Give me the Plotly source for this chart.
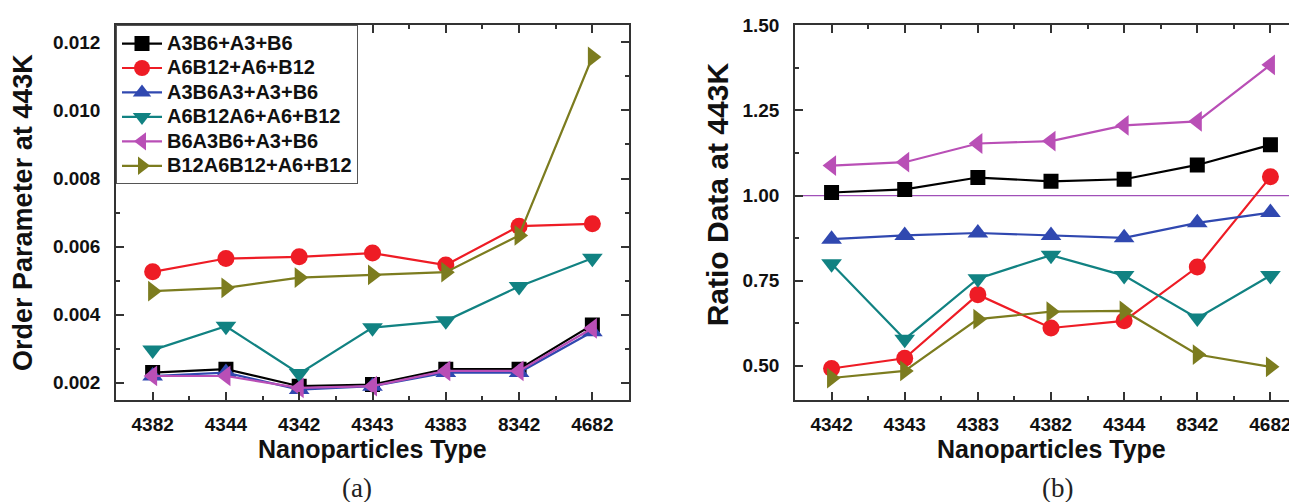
import plotly.graph_objects as go

# ---------------- data ----------------
cats_a = ["4382", "4344", "4342", "4343", "4383", "8342", "4682"]
cats_b = ["4342", "4343", "4383", "4382", "4344", "8342", "4682"]

series_names = ["A3B6+A3+B6", "A6B12+A6+B12", "A3B6A3+A3+B6",
                "A6B12A6+A6+B12", "B6A3B6+A3+B6", "B12A6B12+A6+B12"]

# (a) Order parameter at 443K
a_A3B6 = [0.0023, 0.0024, 0.0019, 0.00195, 0.0024, 0.0024, 0.0037]
a_A6B12 = [0.00526, 0.00565, 0.0057, 0.00581, 0.00546, 0.0066, 0.00667]
a_A3B6A3 = [0.0022, 0.0023, 0.0018, 0.0019, 0.0023, 0.0023, 0.0035]
a_A6B12A6 = [0.00296, 0.00366, 0.00227, 0.00362, 0.00382, 0.00483, 0.00566]
a_B6A3B6 = [0.0022, 0.0022, 0.00185, 0.0019, 0.00235, 0.00235, 0.0036]
a_B12A6B12 = [0.00469, 0.00479, 0.00509, 0.00517, 0.00525, 0.00633, 0.01157]

# (b) Ratio data at 443K
b_A3B6 = [1.009, 1.018, 1.053, 1.042, 1.048, 1.090, 1.149]
b_A6B12 = [0.492, 0.522, 0.709, 0.611, 0.632, 0.790, 1.055]
b_A3B6A3 = [0.872, 0.883, 0.890, 0.883, 0.876, 0.920, 0.950]
b_A6B12A6 = [0.800, 0.578, 0.756, 0.825, 0.765, 0.640, 0.765]
b_B6A3B6 = [1.088, 1.098, 1.153, 1.160, 1.206, 1.218, 1.384]
b_B12A6B12 = [0.464, 0.485, 0.637, 0.659, 0.661, 0.533, 0.497]

ref_level = 1.0

a_series = [a_A3B6, a_A6B12, a_A3B6A3, a_A6B12A6, a_B6A3B6, a_B12A6B12]
b_series = [b_A3B6, b_A6B12, b_A3B6A3, b_A6B12A6, b_B6A3B6, b_B12A6B12]

# ---------------- styles ----------------
colors = ["#000000", "#ee1c25", "#3048b0", "#118282", "#b94fb6", "#7c7c1f"]
symbols = ["square", "circle", "triangle-up", "triangle-down",
           "triangle-left", "triangle-right"]
msizes = [15, 17, 18, 18, 18, 18]

# the page body adds an 8px margin; figure is sized/placed to compensate
OFF = 8
W, H = 1297 - OFF, 502 - OFF
FONT = "Liberation Sans"
AX = "#333333"

xa = list(range(len(cats_a)))
xb = list(range(len(cats_b)))

fig = go.Figure()
for i, name in enumerate(series_names):
    fig.add_trace(go.Scatter(
        x=xa, y=a_series[i],
        name='<span style="font-size:20px">' + name + "</span>",
        mode="lines+markers",
        line=dict(color=colors[i], width=2.2),
        marker=dict(symbol=symbols[i], size=msizes[i], color=colors[i]),
        xaxis="x", yaxis="y", showlegend=True))
for i, name in enumerate(series_names):
    fig.add_trace(go.Scatter(
        x=xb, y=b_series[i], name=name, mode="lines+markers",
        line=dict(color=colors[i], width=2.2),
        marker=dict(symbol=symbols[i], size=msizes[i], color=colors[i]),
        xaxis="x2", yaxis="y2", showlegend=False))

fig.add_shape(type="line", xref="x2 domain", x0=0, x1=1, yref="y2",
              y0=ref_level, y1=ref_level, line=dict(color="#a04fb8", width=1.2),
              layer="below")


def px_x(p):
    return (p - OFF) / W


def px_y(p):
    return 1 - (p - OFF) / H


top_px, bot_px = 15.5, 397.7
xdom_a = [px_x(116), px_x(629)]
xdom_b = [px_x(795), 1.0]
ydom = [px_y(bot_px), px_y(top_px)]
unit_b = (1307 - 795) / 7.0
xrange_b = [-0.5, -0.5 + (1297 - 795) / unit_b]

tickfont = dict(family=FONT, size=19, color="#111111", weight="bold")

common_x = dict(showline=True, linecolor=AX, linewidth=1.5, ticks="inside",
                ticklen=8, tickwidth=1.5, tickcolor=AX, showgrid=False,
                zeroline=False, tickfont=tickfont, tickmode="array",
                ticklabelstandoff=7,
                minor=dict(tick0=0.5, dtick=1, ticklen=4, tickwidth=1.5,
                           tickcolor=AX, ticks="inside", showgrid=False))
common_y = dict(showline=True, linecolor=AX, linewidth=1.5, ticks="inside",
                ticklen=8, tickwidth=1.5, tickcolor=AX, showgrid=False,
                zeroline=False, tickfont=tickfont, ticklabelstandoff=10,
                ticklabeloverflow="allow")

fig.update_layout(
    width=W, height=H, margin=dict(l=0, r=0, t=0, b=0),
    paper_bgcolor="white", plot_bgcolor="white",
    xaxis=dict(domain=xdom_a, anchor="y", range=[-0.5, 6.5],
               tickvals=xa, ticktext=cats_a, mirror="ticks", **common_x),
    yaxis=dict(domain=ydom, anchor="x", range=[0.0015, 0.0125],
               tick0=0, dtick=0.002, tickformat=".3f", mirror="ticks",
               minor=dict(tick0=0, dtick=0.001, ticklen=4, tickwidth=1.5,
                          tickcolor=AX, ticks="inside", showgrid=False),
               **common_y),
    xaxis2=dict(domain=xdom_b, anchor="y2", range=xrange_b,
                tickvals=xb, ticktext=cats_b, mirror="ticks", **common_x),
    yaxis2=dict(domain=ydom, anchor="x2", range=[0.40, 1.5001],
                tick0=0, dtick=0.25, tickformat=".2f", mirror=False,
                minor=dict(tick0=0, dtick=0.125, ticklen=4, tickwidth=1.5,
                           tickcolor=AX, ticks="inside", showgrid=False),
                **common_y),
    legend=dict(x=px_x(116), y=px_y(top_px), xanchor="left", yanchor="top",
                bgcolor="white", bordercolor="#555555", borderwidth=1,
                font=dict(family=FONT, size=16.5, color="#111111", weight="bold"),
                tracegroupgap=0, itemwidth=40),
)

ann = [
    dict(text="Order Parameter at 443K", x=px_x(23), y=px_y(207), textangle=-90, size=27),
    dict(text="Ratio Data at 443K", x=px_x(717), y=px_y(188), textangle=-90, size=30),
    dict(text="Nanoparticles Type", x=px_x(372), y=px_y(448), textangle=0, size=25),
    dict(text="Nanoparticles Type", x=px_x(1051), y=px_y(448), textangle=0, size=25),
]
for a in ann:
    sz = a.pop("size")
    fig.add_annotation(xref="paper", yref="paper", showarrow=False,
                       xanchor="center", yanchor="middle",
                       font=dict(family=FONT, size=sz, color="#111111", weight="bold"),
                       **a)

label_font = dict(family="Liberation Serif", size=27, color="#222222")
fig.add_annotation(text="(a)", x=px_x(357), y=px_y(488), xref="paper", yref="paper",
                   showarrow=False, xanchor="center", yanchor="middle", font=label_font)
fig.add_annotation(text="(b)", x=px_x(1057), y=px_y(488), xref="paper", yref="paper",
                   showarrow=False, xanchor="center", yanchor="middle", font=label_font)

fig.write_html("out.html")
